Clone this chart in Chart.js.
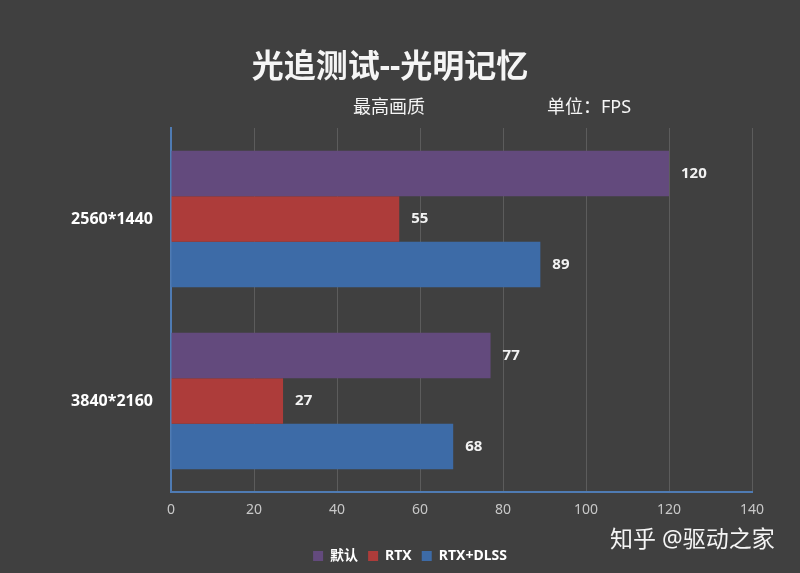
<!DOCTYPE html>
<html>
<head>
	<title>光追测试--光明记忆</title>
	<script src="https://cdn.jsdelivr.net/npm/chart.js@4"></script>
	<style>
		html, body { margin: 0; padding: 0; background: #404040; }
		#wrap { width: 800px; height: 573px; }
	</style>
</head>
<body>
	<div id="wrap"><canvas id="chart1"></canvas></div>
	<script type="text/javascript">
		var resolutions = ['2560*1440', '3840*2160'];
		var defaultData = [120, 77];
		var rtxData = [55, 27];
		var dlssData = [89, 68];
		var xTicks = [0, 20, 40, 60, 80, 100, 120, 140];

		var FONT = "'Noto Sans', 'Noto Sans CJK SC', sans-serif";

		// value labels at bar ends, plus title, subtitle and watermark
		var extras = {
			id: 'extras',
			afterLayout: function(chart){
				// legend sits a bit right of centre in the original
				chart.legend.left += 34;
				chart.legend.right += 34;
			},
			afterDatasetsDraw: function(chart){
				var ctx = chart.ctx;
				ctx.save();
				ctx.fillStyle = '#f2f2f2';
				ctx.font = 'bold 15px ' + FONT;
				ctx.textBaseline = 'middle';
				ctx.textAlign = 'left';
				chart.data.datasets.forEach(function(ds, i){
					chart.getDatasetMeta(i).data.forEach(function(bar, j){
						ctx.fillText(ds.data[j], bar.x + 12, bar.y);
					});
				});
				ctx.restore();
			},
			afterDraw: function(chart){
				var ctx = chart.ctx;
				ctx.save();
				ctx.fillStyle = '#f5f5f5';
				ctx.textBaseline = 'middle';
				ctx.textAlign = 'center';
				ctx.font = 'bold 32px ' + FONT;
				ctx.fillText('光追测试--光明记忆', 390, 68);
				ctx.font = '18px ' + FONT;
				ctx.fillText('最高画质', 389, 108);
				ctx.fillText('单位：FPS', 589, 108);
				ctx.font = '23px ' + FONT;
				ctx.textAlign = 'left';
				ctx.fillText('知乎 @驱动之家', 610, 540);
				ctx.restore();
			}
		};

		var ctx1 = document.getElementById('chart1');
		var chart1 = new Chart(ctx1, {
		    type: 'bar',
		    data: {
		        labels: resolutions,
		        datasets: [{
		            label: '默认',
		            backgroundColor: '#634a7d',
		            data: defaultData
		        }, {
		            label: 'RTX',
		            backgroundColor: '#ad3c3a',
		            data: rtxData
		        }, {
		            label: 'RTX+DLSS',
		            backgroundColor: '#3d6ba7',
		            data: dlssData
		        }]
		    },
		    options: {
		        indexAxis: 'y',
		        responsive: true,
		        maintainAspectRatio: false,
		        animation: false,
		        categoryPercentage: 0.75,
		        barPercentage: 1.0,
		        layout: { padding: { top: 128, right: 48, left: 0, bottom: 0 } },
		        plugins: {
		            title: { display: false },
		            tooltip: { enabled: false },
		            legend: {
		                position: 'bottom',
		                labels: {
		                    color: '#ffffff',
		                    boxWidth: 10,
		                    boxHeight: 10,
		                    padding: 10,
		                    font: { family: FONT, size: 14, weight: 'bold' }
		                }
		            }
		        },
		        scales: {
		            x: {
		                min: 0,
		                max: 140,
		                afterBuildTicks: function(scale){
		                    scale.ticks = xTicks.map(function(v){ return { value: v }; });
		                },
		                afterFit: function(scale){ scale.height = 47; },
		                grid: { color: '#5c5c5c', lineWidth: 1, tickLength: 0, drawTicks: false },
		                border: { display: true, color: '#4f7bb3', width: 2 },
		                ticks: { color: '#c8c8c8', padding: 10, font: { family: FONT, size: 14 } }
		            },
		            y: {
		                afterFit: function(scale){ scale.width = 171; },
		                grid: { display: false, drawTicks: false, tickLength: 0 },
		                border: { display: true, color: '#4f7bb3', width: 2 },
		                ticks: { color: '#ffffff', padding: 18, font: { family: FONT, size: 16, weight: 'bold' } }
		            }
		        }
		    },
		    plugins: [extras]
		});
	</script>
</body>
</html>
